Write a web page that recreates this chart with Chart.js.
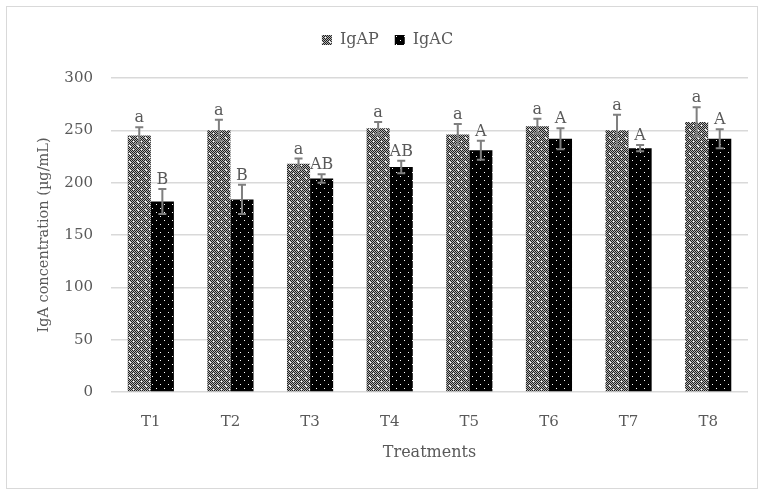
<!DOCTYPE html>
<html>
<head>
<meta charset="utf-8">
<script src="https://cdn.jsdelivr.net/npm/chart.js@4"></script>
<style>
  body { margin: 0; background: #fff; }
  #frame { position: absolute; left: 6px; top: 6px; width: 750px; height: 481px; border: 1px solid #d9d9d9; }
</style>
</head>
<body>
<div id="frame"><canvas id="chart" width="750" height="481"></canvas></div>
<script>
var treatments = ['T1', 'T2', 'T3', 'T4', 'T5', 'T6', 'T7', 'T8'];
var igap = [245, 250, 218, 252, 246, 254, 250, 258];
var igapErr = [8, 10, 5, 6, 10, 7, 15, 14];
var igapLetters = ['a', 'a', 'a', 'a', 'a', 'a', 'a', 'a'];
var igac = [182, 184, 204, 215, 231, 242, 233, 242];
var igacErr = [12, 14, 4, 6, 9, 10, 3, 9];
var igacLetters = ['B', 'B', 'AB', 'AB', 'A', 'A', 'A', 'A'];
var yTicks = [0, 50, 100, 150, 200, 250, 300];

var FONT = '"DejaVu Serif", serif';
var TXT = '#595959';

// gray checker with white specks
function patternAP() {
    var c = document.createElement('canvas');
    c.width = 8; c.height = 8;
    var g = c.getContext('2d');
    for (var y = 0; y < 8; y++) {
        for (var x = 0; x < 8; x++) {
            g.fillStyle = (x + y) % 2 == 0 ? '#1e1e1e' : '#b4b4b4';
            g.fillRect(x, y, 1, 1);
        }
    }
    g.fillStyle = '#ffffff';
    g.fillRect(2, 2, 1, 1);
    g.fillRect(6, 6, 1, 1);
    g.fillRect(3, 3, 1, 1);
    return g.createPattern(c, 'repeat');
}

// black with white dots
function patternAC() {
    var c = document.createElement('canvas');
    c.width = 8; c.height = 8;
    var g = c.getContext('2d');
    g.fillStyle = '#000';
    g.fillRect(0, 0, 8, 8);
    g.fillStyle = '#ffffff';
    g.fillRect(1, 1, 1, 1);
    g.fillRect(5, 5, 1, 1);
    return g.createPattern(c, 'repeat');
}

var ctx = document.getElementById('chart').getContext('2d');

var errorPlugin = {
    id: 'errs',
    afterDatasetsDraw: function(chart) {
        var c = chart.ctx;
        var y = chart.scales.y;
        var sets = [[igap, igapErr, igapLetters], [igac, igacErr, igacLetters]];
        sets.forEach(function(s, di) {
            var meta = chart.getDatasetMeta(di);
            meta.data.forEach(function(bar, i) {
                var top = y.getPixelForValue(s[0][i] + s[1][i]);
                var bot = y.getPixelForValue(s[0][i] - s[1][i]);
                c.save();
                c.strokeStyle = '#7f7f7f';
                c.lineWidth = 2;
                c.beginPath();
                c.moveTo(bar.x, top); c.lineTo(bar.x, bot);
                c.moveTo(bar.x - 4, top); c.lineTo(bar.x + 4, top);
                c.moveTo(bar.x - 4, bot); c.lineTo(bar.x + 4, bot);
                c.stroke();
                c.fillStyle = TXT;
                c.font = '16px ' + FONT;
                c.textAlign = 'center';
                c.textBaseline = 'bottom';
                c.fillText(s[2][i], bar.x, top - 1);
                c.restore();
            });
        });
    }
};

// extra room under the legend
var legendGap = {
    id: 'legendGap',
    beforeInit: function(chart) {
        var fit = chart.legend.fit;
        chart.legend.fit = function() {
            fit.bind(chart.legend)();
            this.height += 20;
        };
    }
};

new Chart(ctx, {
    type: 'bar',
    data: {
        labels: treatments,
        datasets: [
            { label: 'IgAP', data: igap, backgroundColor: patternAP(), borderWidth: 0 },
            { label: 'IgAC', data: igac, backgroundColor: patternAC(), borderWidth: 0 }
        ]
    },
    options: {
        responsive: false,
        animation: false,
        layout: { padding: { left: 20, right: 9, top: 9, bottom: 0 } },
        datasets: { bar: { categoryPercentage: 0.58, barPercentage: 1.0 } },
        plugins: {
            tooltip: { enabled: false },
            legend: {
                position: 'top',
                labels: {
                    color: TXT,
                    font: { family: FONT, size: 16 },
                    boxWidth: 10, boxHeight: 10,
                    padding: 16
                }
            }
        },
        scales: {
            x: {
                afterFit: function(s) { s.height = 96; },
                grid: { display: false },
                border: { display: false },
                ticks: { color: TXT, font: { family: FONT, size: 15 }, padding: 13 },
                title: { display: true, text: 'Treatments', color: TXT, font: { family: FONT, size: 16 }, padding: { top: 0, bottom: 26 } }
            },
            y: {
                min: 0, max: 300,
                afterFit: function(s) { s.width = 84; },
                afterBuildTicks: function(s) { s.ticks = yTicks.map(function(v) { return { value: v }; }); },
                grid: { color: '#d9d9d9', lineWidth: 1.5, drawTicks: false },
                border: { display: false },
                ticks: { color: TXT, font: { family: FONT, size: 15 }, padding: 18 },
                title: { display: true, text: 'IgA concentration (µg/mL)', color: TXT, font: { family: FONT, size: 14.5 }, padding: { top: 9, bottom: 0 } }
            }
        }
    },
    plugins: [errorPlugin, legendGap]
});
</script>
</body>
</html>
